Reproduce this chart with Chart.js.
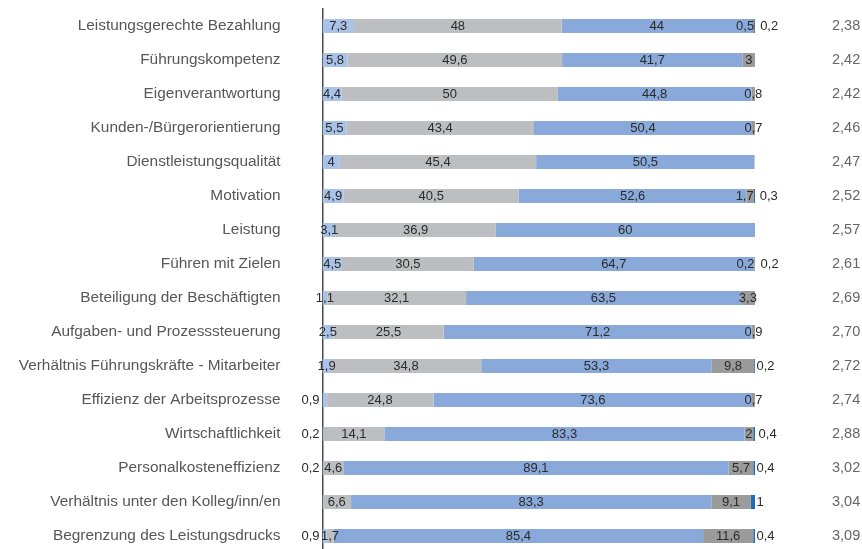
<!DOCTYPE html>
<html><head><meta charset="utf-8">
<script src="https://cdn.jsdelivr.net/npm/chart.js@4/dist/chart.umd.min.js"></script>
<style>
html,body{margin:0;padding:0;background:#fff;overflow:hidden;}
#wrap{width:862px;height:549px;overflow:hidden;position:relative;}
#box{width:862px;height:556px;position:relative;}
</style></head><body>
<div id="wrap"><div id="box"><canvas id="c"></canvas></div></div>
<script>
const categories = [
  "Leistungsgerechte Bezahlung",
  "Führungskompetenz",
  "Eigenverantwortung",
  "Kunden-/Bürgerorientierung",
  "Dienstleistungsqualität",
  "Motivation",
  "Leistung",
  "Führen mit Zielen",
  "Beteiligung der Beschäftigten",
  "Aufgaben- und Prozesssteuerung",
  "Verhältnis Führungskräfte - Mitarbeiter",
  "Effizienz der Arbeitsprozesse",
  "Wirtschaftlichkeit",
  "Personalkosteneffizienz",
  "Verhältnis unter den Kolleg/inn/en",
  "Begrenzung des Leistungsdrucks"
];
const stufe1 = [7.3, 5.8, 4.4, 5.5, 4, 4.9, 3.1, 4.5, 1.1, 2.5, 1.9, 0.9, 0.2, 0.2, 0, 0.9];
const stufe2 = [48, 49.6, 50, 43.4, 45.4, 40.5, 36.9, 30.5, 32.1, 25.5, 34.8, 24.8, 14.1, 4.6, 6.6, 1.7];
const stufe3 = [44, 41.7, 44.8, 50.4, 50.5, 52.6, 60, 64.7, 63.5, 71.2, 53.3, 73.6, 83.3, 89.1, 83.3, 85.4];
const stufe4 = [0.5, 3, 0.8, 0.7, 0, 1.7, 0, 0.2, 3.3, 0.9, 9.8, 0.7, 2, 5.7, 9.1, 11.6];
const keineAngabe = [0.2, 0, 0, 0, 0, 0.3, 0, 0.2, 0, 0, 0.2, 0, 0.4, 0.4, 1, 0.4];
const mittelwerte = [2.38, 2.42, 2.42, 2.46, 2.47, 2.52, 2.57, 2.61, 2.69, 2.70, 2.72, 2.74, 2.88, 3.02, 3.04, 3.09];

const colors = ['#A9C2E8', '#BDBEC1', '#88A9DA', '#9B9B9B', '#1C6DB4'];
const FONT = '"Liberation Sans", Arial, sans-serif';
const fmt = v => String(v).replace('.', ',');
const fmt2 = v => v.toFixed(2).replace('.', ',');

const segLabels = {
  id: 'segLabels',
  afterDatasetsDraw(chart) {
    const ctx = chart.ctx;
    const x0 = chart.scales.x.getPixelForValue(0);
    const ds = chart.data.datasets;
    const last = ds.length - 1;
    ctx.save();
    ctx.font = '13px ' + FONT;
    ctx.fillStyle = '#2b2b2b';
    ctx.textBaseline = 'middle';
    ctx.textAlign = 'left';
    for (let i = 0; i < chart.data.labels.length; i++) {
      let prevRight = -Infinity;
      for (let k = 0; k <= last; k++) {
        const v = ds[k].data[i];
        if (!v) continue;
        const bar = chart.getDatasetMeta(k).data[i];
        const left = Math.min(bar.base, bar.x), right = Math.max(bar.base, bar.x);
        const txt = fmt(v);
        const w = ctx.measureText(txt).width;
        let tl = (left + right) / 2 - w / 2;
        if (k === 0 && v < 1) {
          tl = x0 - 3 - w;
        } else if (k === last) {
          tl = Math.max(right + 1.5, prevRight + 6);
        } else if (k === last - 1 && ds[last].data[i] && tl + w > right) {
          tl = right - w;
        }
        ctx.fillText(txt, tl, bar.y + 0.5);
        prevRight = tl + w;
      }
    }
    ctx.restore();
  }
};

const catLabels = {
  id: 'catLabels',
  afterDraw(chart) {
    const ctx = chart.ctx;
    const ys = chart.scales.y;
    const edge = chart.chartArea.left - 42;
    ctx.save();
    ctx.font = '15.4px ' + FONT;
    ctx.fillStyle = '#575757';
    ctx.textBaseline = 'middle';
    ctx.textAlign = 'left';
    chart.data.labels.forEach((lab, i) => {
      const w = ctx.measureText(lab).width;
      const xl = Math.max(0, edge - w);
      ctx.fillText(lab, xl, ys.getPixelForValue(i));
    });
    ctx.restore();
  }
};

new Chart(document.getElementById('c'), {
  type: 'bar',
  data: {
    labels: categories,
    datasets: [
      { label: '1', data: stufe1, backgroundColor: colors[0], yAxisID: 'y' },
      { label: '2', data: stufe2, backgroundColor: colors[1], yAxisID: 'y' },
      { label: '3', data: stufe3, backgroundColor: colors[2], yAxisID: 'y' },
      { label: '4', data: stufe4, backgroundColor: colors[3], yAxisID: 'y' },
      { label: 'k.A.', data: keineAngabe, backgroundColor: colors[4], yAxisID: 'y' }
    ]
  },
  options: {
    indexAxis: 'y',
    responsive: true,
    maintainAspectRatio: false,
    animation: false,
    layout: { padding: { top: 9, bottom: 3, left: 0, right: 0 } },
    datasets: { bar: { barPercentage: 0.41, categoryPercentage: 1, borderWidth: 0 } },
    plugins: { legend: { display: false }, tooltip: { enabled: false } },
    scales: {
      x: { stacked: true, min: 0, max: 100, display: false },
      y: {
        stacked: true, offset: true,
        grid: { display: false },
        border: { display: true, color: '#4a4a4a', width: 1.5 },
        ticks: { display: false },
        afterFit: s => { s.width = 322.5; s.paddingTop = 0; s.paddingBottom = 0; }
      },
      y2: {
        type: 'category', position: 'right', offset: true,
        labels: mittelwerte.map(fmt2),
        grid: { display: false, drawTicks: false },
        border: { display: false },
        ticks: { color: '#666', font: { family: FONT, size: 14.5 }, padding: 77 },
        afterFit: s => { s.width = 107; s.paddingTop = 0; s.paddingBottom = 0; }
      }
    }
  },
  plugins: [segLabels, catLabels]
});
</script>
</body></html>
